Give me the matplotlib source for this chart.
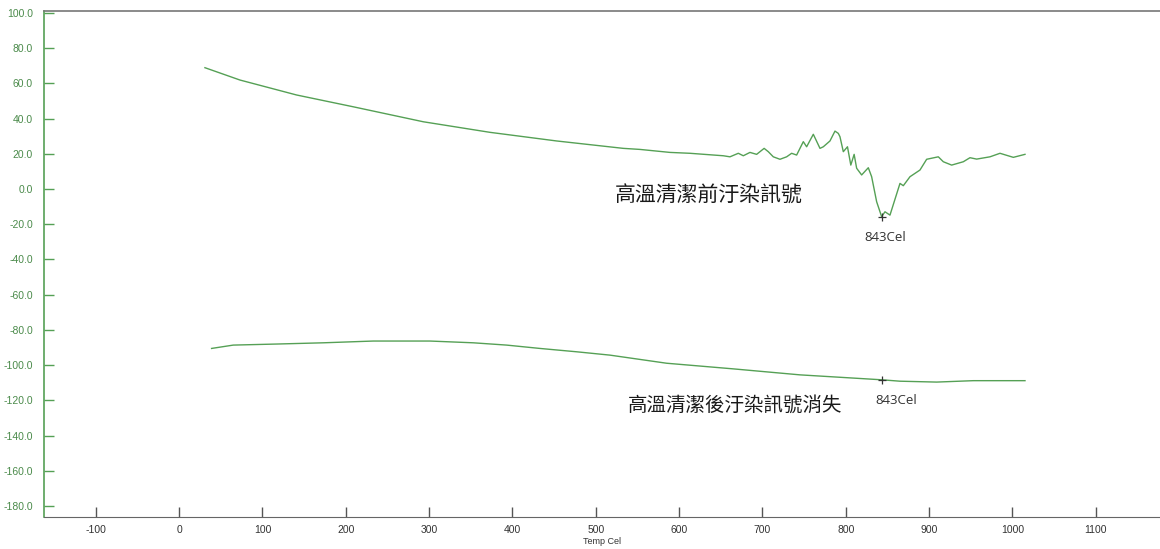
import matplotlib
matplotlib.use("Agg")
import matplotlib.pyplot as plt
import numpy as np

# 高溫清潔前 (before cleaning) - temperature / signal
temp_before = [31, 73, 141, 209, 293, 373, 453, 533, 553, 589, 613, 653, 661, 671, 677,
               685, 693, 702, 707, 713, 721, 729, 735, 741, 749, 753, 761, 769, 773,
               781, 787, 791, 793, 797, 802, 806, 810, 813, 819, 827, 831, 837, 843,
               847, 853, 865, 869, 877, 889, 897, 911, 917, 927, 941, 949, 957, 973,
               985, 1001, 1015]
sig_before = [68.9, 61.9, 53.4, 46.7, 38.2, 32.2, 27.3, 23.1, 22.5, 20.8, 20.3, 18.9, 18.3,
              20.3, 18.9, 20.8, 19.7, 23.1, 21.2, 18.3, 16.9, 18.3, 20.3, 19.3, 26.9,
              24.0, 31.1, 23.1, 24.0, 27.3, 32.9, 31.6, 29.7, 21.2, 24.0, 13.6, 19.7,
              11.8, 8.0, 12.1, 7.0, -7.2, -15.7, -12.9, -14.8, 3.2, 1.9, 7.0, 10.8,
              16.9, 18.3, 15.5, 13.6, 15.5, 17.8, 17.0, 18.3, 20.3, 18.0, 19.7]

# 高溫清潔後 (after cleaning)
temp_after = [39, 65, 117, 173, 233, 301, 353, 393, 433, 477, 517, 585, 665, 745, 843,
              865, 909, 953, 1015]
sig_after = [-90.5, -88.6, -88.0, -87.3, -86.3, -86.3, -87.3, -88.6, -90.5, -92.4,
             -94.3, -98.9, -102.1, -105.5, -108.3, -109.1, -109.6, -108.8, -108.8]

peak_temp = 843
peak_before = -15.7
peak_after = -108.3

label_before = "高溫清潔前汙染訊號"
label_after = "高溫清潔後汙染訊號消失"

xticks = list(range(-100, 1101, 100))
yticks = list(range(-180, 101, 20))

green = "#55a055"
txt_green = "#4a8a4a"

fig = plt.figure(figsize=(11.6, 5.49), dpi=100)
ax = fig.add_axes([0.038, 0.0583, 0.962, 0.9217])

ax.plot(temp_before, sig_before, color=green, lw=1.0)
ax.plot(temp_after, sig_after, color=green, lw=1.0)
ax.plot([peak_temp], [peak_before], marker="+", color="#333333", ms=6, mew=0.9)
ax.plot([peak_temp], [peak_after], marker="+", color="#333333", ms=6, mew=0.9)

cjk = ["Noto Sans CJK TC", "DejaVu Sans"]
ax.text(636, -4, label_before, family=cjk, fontsize=15, color="#1a1a1a",
        ha="center", va="center")
ax.text(667, -122.5, label_after, family=cjk, fontsize=14, color="#1a1a1a",
        ha="center", va="center")
ax.text(847, -27.5, f"{peak_temp}Cel", family=["Open Sans"], fontsize=9.5,
        color="#333333", ha="center", va="center")
ax.text(861, -120, f"{peak_temp}Cel", family=["Open Sans"], fontsize=9.5,
        color="#333333", ha="center", va="center")

ax.set_xlim(-162, 1177)
ax.set_ylim(-186.2, 101.1)
ax.set_xticks(xticks)
ax.set_xticklabels([str(t) for t in xticks])
ax.set_yticks(yticks)
ax.set_yticklabels([f"{t:.1f}" for t in yticks])

ax.tick_params(axis="y", direction="in", length=7, width=1, colors=green,
               labelcolor=txt_green, labelsize=7.5, pad=8)
ax.tick_params(axis="x", direction="in", length=7, width=1, colors="#555555",
               labelcolor="#333333", labelsize=7.5, pad=6)
for lab in ax.get_xticklabels() + ax.get_yticklabels():
    lab.set_family("Liberation Sans")

ax.spines["left"].set_color(green)
ax.spines["left"].set_linewidth(1.2)
ax.spines["bottom"].set_color("#666666")
ax.spines["top"].set_color("#777777")
ax.spines["top"].set_linewidth(1.2)
ax.spines["right"].set_visible(False)

ax.set_xlabel("Temp Cel", fontsize=6.5, family="Liberation Sans", color="#333333",
              labelpad=1)

fig.savefig("out.png", dpi=100)
